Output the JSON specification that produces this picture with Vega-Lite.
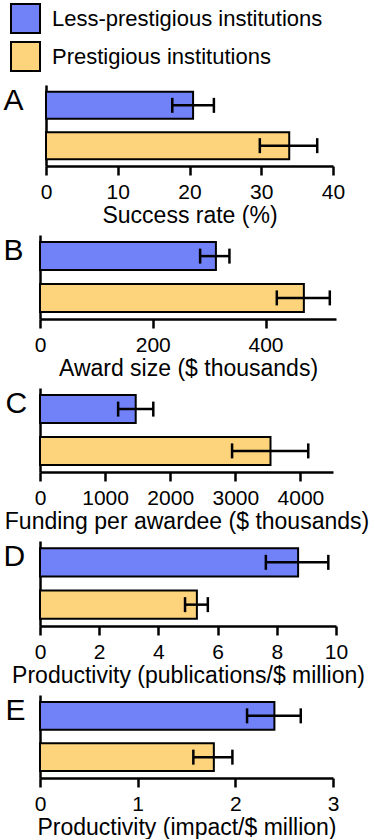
{
  "$schema": "https://vega.github.io/schema/vega-lite/v6.json",
  "padding": {"left": 3, "top": 3, "right": 0, "bottom": 0},
  "bounds": "flush",
  "spacing": 69,
  "data": {"values": [
    {"panel": "A", "group": "Less-prestigious institutions", "value": 20.5, "lo": 17.6, "hi": 23.4},
    {"panel": "A", "group": "Prestigious institutions", "value": 33.9, "lo": 29.8, "hi": 37.8},
    {"panel": "B", "group": "Less-prestigious institutions", "value": 312, "lo": 284, "hi": 336},
    {"panel": "B", "group": "Prestigious institutions", "value": 468, "lo": 420, "hi": 514},
    {"panel": "C", "group": "Less-prestigious institutions", "value": 1470, "lo": 1200, "hi": 1740},
    {"panel": "C", "group": "Prestigious institutions", "value": 3540, "lo": 2950, "hi": 4120},
    {"panel": "D", "group": "Less-prestigious institutions", "value": 8.72, "lo": 7.63, "hi": 9.74},
    {"panel": "D", "group": "Prestigious institutions", "value": 5.3, "lo": 4.9, "hi": 5.67},
    {"panel": "E", "group": "Less-prestigious institutions", "value": 2.4, "lo": 2.12, "hi": 2.67},
    {"panel": "E", "group": "Prestigious institutions", "value": 1.78, "lo": 1.57, "hi": 1.97}
  ]},
  "config": {
    "font": "Liberation Sans",
    "view": {"stroke": null},
    "axis": {
      "grid": false,
      "domainColor": "black", "domainWidth": 2.5,
      "tickColor": "black", "tickWidth": 2.5, "tickSize": 9,
      "labelColor": "black", "labelFontSize": 21, "labelPadding": 6,
      "labelFlush": false, "labelOverlap": false,
      "titleColor": "black", "titleFontSize": 23, "titleFontWeight": "normal", "titlePadding": 2
    },
    "legend": {
      "labelFontSize": 22, "labelColor": "black", "labelLimit": 400,
      "symbolType": "square", "symbolSize": 841, "symbolStrokeColor": "black", "symbolStrokeWidth": 2,
      "rowPadding": 1, "labelOffset": 11, "padding": 0
    }
  },
  "vconcat": [
    {
      "width": 293, "height": 81,
      "transform": [{"filter": "datum.panel === 'A'"}],
      "encoding": {
        "y": {"field": "group", "type": "nominal", "scale": {"domain": ["Less-prestigious institutions", "Prestigious institutions"], "paddingInner": 0.33, "paddingOuter": 0.17},
          "axis": {"labels": false, "ticks": false, "offset": -6, "title": "A", "titleAngle": 0, "titleAlign": "left", "titleBaseline": "top", "titleX": -43, "titleY": 0, "titleFontSize": 30}}
      },
      "layer": [
        {"mark": {"type": "bar", "stroke": "black", "strokeWidth": 2},
         "encoding": {
           "x": {"field": "value", "type": "quantitative", "scale": {"domain": [0, 40], "range": [6, 293], "nice": false},
             "axis": {"values": [0, 10, 20, 30, 40], "title": "Success rate (%)"}},
           "color": {"field": "group", "type": "nominal", "scale": {"domain": ["Less-prestigious institutions", "Prestigious institutions"], "range": ["#7181f8", "#fdd47c"]},
             "legend": {"title": null, "orient": "none", "legendX": -30, "legendY": -82, "direction": "vertical"}}
         }},
        {"mark": {"type": "rule", "color": "black", "strokeWidth": 2.5},
         "encoding": {"x": {"field": "lo", "type": "quantitative"}, "x2": {"field": "hi"}}},
        {"mark": {"type": "tick", "color": "black", "thickness": 2.5, "size": 15, "opacity": 1},
         "encoding": {"x": {"field": "lo", "type": "quantitative"}}},
        {"mark": {"type": "tick", "color": "black", "thickness": 2.5, "size": 15, "opacity": 1},
         "encoding": {"x": {"field": "hi", "type": "quantitative"}}}
      ]
    },
    {
      "width": 296, "height": 84,
      "transform": [{"filter": "datum.panel === 'B'"}],
      "encoding": {
        "y": {"field": "group", "type": "nominal", "scale": {"domain": ["Less-prestigious institutions", "Prestigious institutions"], "paddingInner": 0.33, "paddingOuter": 0.17},
          "axis": {"labels": false, "ticks": false, "title": "B", "titleAngle": 0, "titleAlign": "left", "titleBaseline": "top", "titleX": -37, "titleY": 0, "titleFontSize": 30}}
      },
      "layer": [
        {"mark": {"type": "bar", "stroke": "black", "strokeWidth": 2},
         "encoding": {
           "x": {"field": "value", "type": "quantitative", "scale": {"domain": [0, 525], "nice": false},
             "axis": {"values": [0, 200, 400], "title": "Award size ($ thousands)"}},
           "color": {"field": "group", "type": "nominal"}
         }},
        {"mark": {"type": "rule", "color": "black", "strokeWidth": 2.5},
         "encoding": {"x": {"field": "lo", "type": "quantitative"}, "x2": {"field": "hi"}}},
        {"mark": {"type": "tick", "color": "black", "thickness": 2.5, "size": 15, "opacity": 1},
         "encoding": {"x": {"field": "lo", "type": "quantitative"}}},
        {"mark": {"type": "tick", "color": "black", "thickness": 2.5, "size": 15, "opacity": 1},
         "encoding": {"x": {"field": "hi", "type": "quantitative"}}}
      ]
    },
    {
      "width": 293, "height": 84,
      "transform": [{"filter": "datum.panel === 'C'"}],
      "encoding": {
        "y": {"field": "group", "type": "nominal", "scale": {"domain": ["Less-prestigious institutions", "Prestigious institutions"], "paddingInner": 0.33, "paddingOuter": 0.17},
          "axis": {"labels": false, "ticks": false, "title": "C", "titleAngle": 0, "titleAlign": "left", "titleBaseline": "top", "titleX": -35, "titleY": 0, "titleFontSize": 30}}
      },
      "layer": [
        {"mark": {"type": "bar", "stroke": "black", "strokeWidth": 2},
         "encoding": {
           "x": {"field": "value", "type": "quantitative", "scale": {"domain": [0, 4500], "nice": false},
             "axis": {"values": [0, 1000, 2000, 3000, 4000], "format": "d", "title": "Funding per awardee ($ thousands)"}},
           "color": {"field": "group", "type": "nominal"}
         }},
        {"mark": {"type": "rule", "color": "black", "strokeWidth": 2.5},
         "encoding": {"x": {"field": "lo", "type": "quantitative"}, "x2": {"field": "hi"}}},
        {"mark": {"type": "tick", "color": "black", "thickness": 2.5, "size": 15, "opacity": 1},
         "encoding": {"x": {"field": "lo", "type": "quantitative"}}},
        {"mark": {"type": "tick", "color": "black", "thickness": 2.5, "size": 15, "opacity": 1},
         "encoding": {"x": {"field": "hi", "type": "quantitative"}}}
      ]
    },
    {
      "width": 296, "height": 85,
      "transform": [{"filter": "datum.panel === 'D'"}],
      "encoding": {
        "y": {"field": "group", "type": "nominal", "scale": {"domain": ["Less-prestigious institutions", "Prestigious institutions"], "paddingInner": 0.33, "paddingOuter": 0.17},
          "axis": {"labels": false, "ticks": false, "title": "D", "titleAngle": 0, "titleAlign": "left", "titleBaseline": "top", "titleX": -37, "titleY": 0, "titleFontSize": 30}}
      },
      "layer": [
        {"mark": {"type": "bar", "stroke": "black", "strokeWidth": 2},
         "encoding": {
           "x": {"field": "value", "type": "quantitative", "scale": {"domain": [0, 10], "nice": false},
             "axis": {"values": [0, 2, 4, 6, 8, 10], "format": "d", "title": "Productivity (publications/$ million)"}},
           "color": {"field": "group", "type": "nominal"}
         }},
        {"mark": {"type": "rule", "color": "black", "strokeWidth": 2.5},
         "encoding": {"x": {"field": "lo", "type": "quantitative"}, "x2": {"field": "hi"}}},
        {"mark": {"type": "tick", "color": "black", "thickness": 2.5, "size": 15, "opacity": 1},
         "encoding": {"x": {"field": "lo", "type": "quantitative"}}},
        {"mark": {"type": "tick", "color": "black", "thickness": 2.5, "size": 15, "opacity": 1},
         "encoding": {"x": {"field": "hi", "type": "quantitative"}}}
      ]
    },
    {
      "width": 293, "height": 83,
      "transform": [{"filter": "datum.panel === 'E'"}],
      "encoding": {
        "y": {"field": "group", "type": "nominal", "scale": {"domain": ["Less-prestigious institutions", "Prestigious institutions"], "paddingInner": 0.33, "paddingOuter": 0.17},
          "axis": {"labels": false, "ticks": false, "title": "E", "titleAngle": 0, "titleAlign": "left", "titleBaseline": "top", "titleX": -35, "titleY": 0, "titleFontSize": 30}}
      },
      "layer": [
        {"mark": {"type": "bar", "stroke": "black", "strokeWidth": 2},
         "encoding": {
           "x": {"field": "value", "type": "quantitative", "scale": {"domain": [0, 3], "nice": false},
             "axis": {"values": [0, 1, 2, 3], "format": "d", "title": "Productivity (impact/$ million)"}},
           "color": {"field": "group", "type": "nominal"}
         }},
        {"mark": {"type": "rule", "color": "black", "strokeWidth": 2.5},
         "encoding": {"x": {"field": "lo", "type": "quantitative"}, "x2": {"field": "hi"}}},
        {"mark": {"type": "tick", "color": "black", "thickness": 2.5, "size": 15, "opacity": 1},
         "encoding": {"x": {"field": "lo", "type": "quantitative"}}},
        {"mark": {"type": "tick", "color": "black", "thickness": 2.5, "size": 15, "opacity": 1},
         "encoding": {"x": {"field": "hi", "type": "quantitative"}}}
      ]
    }
  ]
}
